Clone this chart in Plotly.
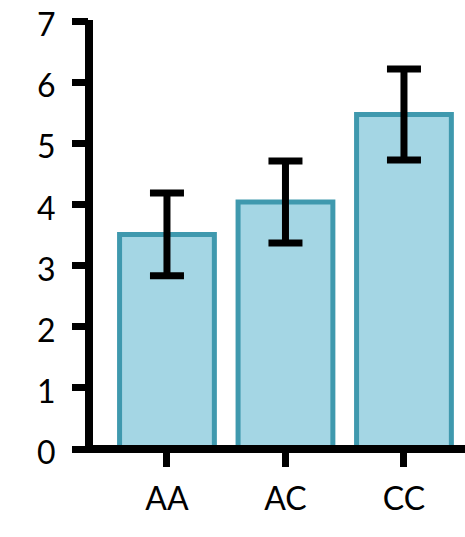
import plotly.graph_objects as go

categories = ["AA", "AC", "CC"]
values = [3.51, 4.04, 5.47]
errors = [0.675, 0.67, 0.745]
y_ticks = [0, 1, 2, 3, 4, 5, 6, 7]

fig = go.Figure()
fig.add_trace(go.Bar(
    x=[0, 1, 2],
    y=values,
    width=0.8,
    marker=dict(color="#A4D6E4", line=dict(color="#3F99AE", width=5)),
    error_y=dict(type="data", array=errors, visible=True,
                 color="black", thickness=7, width=17),
))

# axis lines drawn as shapes so they are centred on the plot edges
plot_w = 376.0
plot_h = 428.0
fig.add_shape(type="line", xref="paper", yref="paper",
              x0=-4 / plot_w, x1=1.05, y0=0, y1=0,
              line=dict(color="black", width=8), layer="above")
fig.add_shape(type="line", xref="paper", yref="paper",
              x0=0, x1=0, y0=0, y1=1 + 1 / plot_h,
              line=dict(color="black", width=8), layer="above")

fig.update_layout(
    width=465, height=537,
    margin=dict(l=89, r=0, t=21, b=88, autoexpand=False),
    plot_bgcolor="white", paper_bgcolor="white",
    showlegend=False,
    font=dict(family="Lato", size=32, color="black"),
    xaxis=dict(
        range=[-0.658, 2.515],
        tickmode="array", tickvals=[0, 1, 2], ticktext=categories,
        showline=False, automargin=False,
        ticks="outside", ticklen=17, tickwidth=7, tickcolor="black",
        showgrid=False, zeroline=False,
        ticklabelstandoff=5,
        tickfont=dict(family="Lato", size=32, color="black"),
    ),
    yaxis=dict(
        range=[0, 7],
        tickmode="array", tickvals=y_ticks,
        ticktext=[str(v) for v in y_ticks],
        showline=False, automargin=False,
        ticks="outside", ticklen=16, tickwidth=7, tickcolor="black",
        showgrid=False, zeroline=False,
        ticklabelstandoff=10,
        ticklabelshift=4,
        ticklabeloverflow="allow",
        tickfont=dict(family="Lato", size=32, color="black"),
    ),
)

fig.write_html(
    "out.html",
    config={"displayModeBar": False},
    post_script="document.body.style.margin='0';document.body.style.overflow='hidden';",
)
